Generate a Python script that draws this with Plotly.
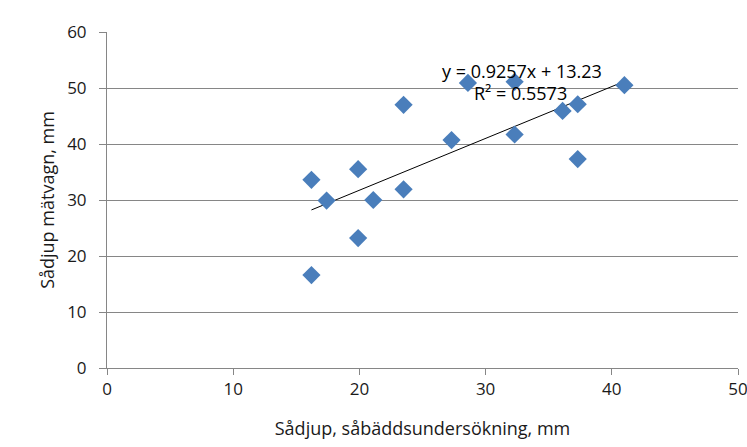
import plotly.graph_objects as go

x_vals = [16.2, 17.4, 19.9, 21.1, 23.5, 23.5, 27.3, 28.6, 32.3, 32.3, 36.1, 37.3, 37.3, 41.0, 16.2, 19.9]
y_vals = [33.6, 29.9, 35.5, 30.0, 47.0, 31.9, 40.7, 50.9, 51.1, 41.7, 45.9, 47.1, 37.3, 50.5, 16.6, 23.2]
slope = 0.9257
intercept = 13.23
r2 = 0.5573

x_ticks = [0, 10, 20, 30, 40, 50]
y_ticks = [0, 10, 20, 30, 40, 50, 60]

FONT = "Open Sans"
GREY = "#868686"
TXT = "#1a1a1a"

fx = [min(x_vals), max(x_vals)]
fy = [slope * v + intercept for v in fx]

fig = go.Figure()
fig.add_trace(go.Scatter(x=fx, y=fy, mode="lines",
                         line=dict(color="#000000", width=1), showlegend=False, hoverinfo="skip"))
fig.add_trace(go.Scatter(x=x_vals, y=y_vals, mode="markers",
                         marker=dict(symbol="diamond", size=14, color="#4A7EBB",
                                     line=dict(width=0)),
                         showlegend=False))

fig.add_annotation(x=0.657, y=0.885, xref="paper", yref="paper",
                   xanchor="center", yanchor="middle",
                   text="y = 0.9257x + 13.23", showarrow=False,
                   font=dict(family=FONT, size=18, color="#000000"))
fig.add_annotation(x=0.655, y=0.817, xref="paper", yref="paper",
                   xanchor="center", yanchor="middle",
                   text=f"R² = {r2}", showarrow=False,
                   font=dict(family=FONT, size=18, color="#000000"))

fig.update_layout(
    width=747, height=447,
    margin=dict(l=107, r=9, t=32, b=79, autoexpand=False),
    paper_bgcolor="white", plot_bgcolor="white",
    font=dict(family=FONT, size=17, color=TXT),
    xaxis=dict(range=[0, 50], tickvals=x_ticks, showgrid=False, zeroline=False,
               automargin=False, ticklabeloverflow="allow",
               showline=True, linecolor=GREY, linewidth=1,
               ticks="outside", ticklen=6, tickcolor=GREY,
               title=dict(text="Sådjup, såbäddsundersökning, mm", standoff=22,
                          font=dict(size=18))),
    yaxis=dict(range=[0, 60], tickvals=y_ticks, showgrid=True, gridcolor=GREY,
               gridwidth=1, zeroline=False, automargin=False,
               showline=True, linecolor=GREY, linewidth=1,
               ticks="outside", ticklen=7, tickcolor=GREY, ticklabelstandoff=9,
               title=dict(text="Sådjup mätvagn, mm", standoff=7,
                          font=dict(size=18))),
)

fig.write_html("out.html")
